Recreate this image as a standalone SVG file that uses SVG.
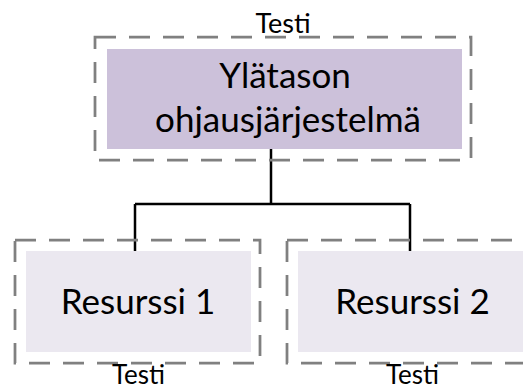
<svg xmlns="http://www.w3.org/2000/svg" width="523" height="390" viewBox="0 0 523 390">
  <style>
    .frame { fill: none; stroke: #808080; stroke-width: 2.75; stroke-dasharray: 21 13; }
    .top { fill: #CCC1DA; }
    .res { fill: #EBE8F0; }
    .wire { fill: none; stroke: #000000; stroke-width: 2.5; }
    text { font-family: "Lato", "Liberation Sans", sans-serif; fill: #000000; text-anchor: middle; }
    .big { font-size: 35px; }
    .tag { font-size: 27px; }
    .foot { font-size: 26px; }
  </style>

  <!-- connectors -->
  <g id="connectors">
    <path class="wire" d="M271,149 V204 M135,204 H410 M135,204 V251 M410,204 V251"/>
  </g>

  <!-- top-level control system -->
  <g id="node-top">
    <rect class="frame" x="95" y="37" width="376" height="123"/>
    <rect class="top" x="107" y="49" width="355" height="100"/>
    <text class="tag" x="283" y="33">Testi</text>
    <text class="big" x="285" y="88">Ylätason</text>
    <text class="big" x="288" y="132">ohjausjärjestelmä</text>
  </g>

  <!-- resource 1 -->
  <g id="node-res1">
    <rect class="frame" x="15" y="240" width="245" height="123"/>
    <rect class="res" x="26" y="251" width="225" height="101"/>
    <text class="big" x="138" y="314">Resurssi 1</text>
    <text class="foot" x="138.5" y="384">Testi</text>
  </g>

  <!-- resource 2 -->
  <g id="node-res2">
    <rect class="frame" x="287" y="240" width="245" height="123"/>
    <rect class="res" x="298" y="251" width="230" height="101"/>
    <text class="big" x="412.5" y="314">Resurssi 2</text>
    <text class="foot" x="412.5" y="384">Testi</text>
  </g>
</svg>
